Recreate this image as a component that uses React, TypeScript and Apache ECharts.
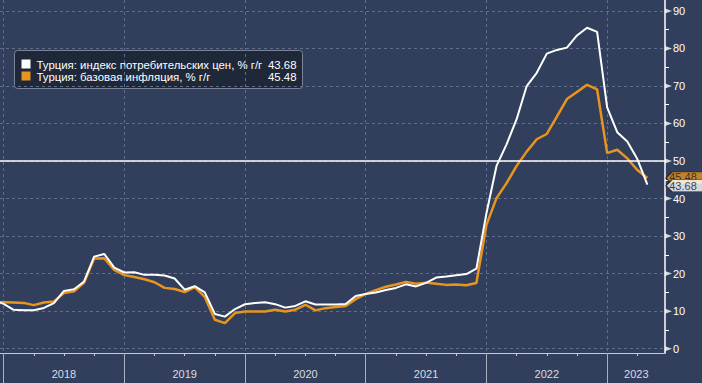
import React, { useEffect, useRef } from "react";
import * as echarts from "echarts";

// Month labels (end-of-month observations)
const months: string[] = [
  "2017-11", "2017-12",
  "2018-01", "2018-02", "2018-03", "2018-04", "2018-05", "2018-06", "2018-07", "2018-08", "2018-09", "2018-10", "2018-11", "2018-12",
  "2019-01", "2019-02", "2019-03", "2019-04", "2019-05", "2019-06", "2019-07", "2019-08", "2019-09", "2019-10", "2019-11", "2019-12",
  "2020-01", "2020-02", "2020-03", "2020-04", "2020-05", "2020-06", "2020-07", "2020-08", "2020-09", "2020-10", "2020-11", "2020-12",
  "2021-01", "2021-02", "2021-03", "2021-04", "2021-05", "2021-06", "2021-07", "2021-08", "2021-09", "2021-10", "2021-11", "2021-12",
  "2022-01", "2022-02", "2022-03", "2022-04", "2022-05", "2022-06", "2022-07", "2022-08", "2022-09", "2022-10", "2022-11", "2022-12",
  "2023-01", "2023-02", "2023-03", "2023-04",
];

// Турция: индекс потребительских цен, % г/г
const cpi: number[] = [
  12.98, 11.92,
  10.35, 10.26, 10.23, 10.85, 12.15, 15.39, 15.85, 17.9, 24.52, 25.24, 21.62, 20.3,
  20.35, 19.67, 19.71, 19.5, 18.71, 15.72, 16.65, 15.01, 9.26, 8.55, 10.56, 11.84,
  12.15, 12.37, 11.86, 10.94, 11.39, 12.62, 11.76, 11.77, 11.75, 11.89, 14.03, 14.6,
  14.97, 15.61, 16.19, 17.14, 16.59, 17.53, 18.95, 19.25, 19.58, 19.89, 21.31, 36.08,
  48.69, 54.44, 61.14, 69.97, 73.5, 78.62, 79.6, 80.21, 83.45, 85.51, 84.39, 64.27,
  57.68, 55.18, 50.51, 43.68,
];

// Турция: базовая инфляция, % г/г
const core: number[] = [
  12.3, 12.4,
  12.3, 12.2, 11.6, 12.3, 12.6, 14.8, 15.3, 17.6, 24.0, 24.1, 21.0, 19.6,
  19.1, 18.5, 17.7, 16.2, 15.9, 15.1, 16.4, 13.8, 7.7, 6.8, 9.5, 9.9,
  9.9, 9.9, 10.4, 9.9, 10.4, 11.7, 10.2, 10.8, 11.1, 11.4, 13.2, 14.6,
  15.6, 16.5, 17.1, 17.8, 17.3, 17.6, 17.3, 17.0, 17.1, 16.9, 17.5, 33.0,
  40.1, 44.1, 48.7, 52.5, 55.8, 57.2, 61.8, 66.5, 68.4, 70.3, 69.1, 52.1,
  53.0, 50.7, 47.6, 45.48,
];

const seriesNames: string[] = [
  "Турция: индекс потребительских цен, % г/г",
  "Турция: базовая инфляция, % г/г",
];

const yTickValues: number[] = [0, 10, 20, 30, 40, 50, 60, 70, 80, 90];
const yMinorTicks: number[] = [5, 15, 25, 35, 45, 55, 65, 75, 85];
const yearStartTicks: number[] = [0, 12, 24, 36, 48, 60];
const quarterTicks: number[] = [0, 3, 6, 9, 12, 15, 18, 21, 24, 27, 30, 33, 36, 39, 42, 45, 48, 51, 54, 57, 60, 63];
const yearLabelPositions: number[] = [6, 18, 30, 42, 54, 62.9];
const referenceLevel = 50;

const X_MIN = -0.36;
const X_MAX = 65.75;
const Y_MIN = -1.15;
const Y_MAX = 92.9;

const BG = "#323f5c";
const ORANGE = "#e8951f";
const GRID = "#5f6e8c";
const FONT = "'Liberation Sans', Arial, sans-serif";

function monthIndex(s: string): number {
  const [y, m] = s.split("-").map(Number);
  return (y - 2018) * 12 + m;
}

export default function App() {
  const ref = useRef<HTMLDivElement>(null);

  useEffect(() => {
    if (!ref.current) return;
    const chart = echarts.init(ref.current, undefined, { renderer: "svg" });

    const cpiData = months.map((m, i) => [monthIndex(m), cpi[i]]);
    const coreData = months.map((m, i) => [monthIndex(m), core[i]]);
    const lastCpi = cpi[cpi.length - 1];
    const lastCore = core[core.length - 1];

    const tagPath = "path://M0,6L6,0L40,0L40,12L6,12Z";

    const option: any = {
      animation: false,
      backgroundColor: BG,
      grid: { left: 0, right: 37, top: 0, bottom: 30, containLabel: false },
      xAxis: [
        {
          type: "value",
          min: X_MIN,
          max: X_MAX,
          position: "bottom",
          axisLine: { show: true, onZero: false, lineStyle: { color: "#c5cad3", width: 1 } },
          axisTick: { show: true, customValues: quarterTicks, length: 3, lineStyle: { color: "#c5cad3" } },
          axisLabel: {
            show: true,
            customValues: yearLabelPositions,
            formatter: (v: number) => String(2018 + Math.floor(v / 12)),
            color: "#d8dce4",
            fontSize: 11,
            fontFamily: FONT,
            margin: 15,
          },
          splitLine: { show: false },
        },
        {
          type: "value",
          min: X_MIN,
          max: X_MAX,
          position: "bottom",
          axisLine: { show: false, onZero: false },
          axisTick: { show: true, customValues: yearStartTicks, length: 30, lineStyle: { color: "#a9b0bd" } },
          axisLabel: { show: false },
          splitLine: { show: true, lineStyle: { color: GRID, type: [3, 3], width: 1 } },
        },
      ],
      yAxis: [
        {
          type: "value",
          position: "right",
          min: Y_MIN,
          max: Y_MAX,
          axisLine: { show: true, onZero: false, lineStyle: { color: "#ffffff", width: 1.5 } },
          axisTick: { show: false, customValues: yTickValues },
          axisLabel: {
            customValues: yTickValues,
            color: "#ffffff",
            fontSize: 11,
            fontFamily: FONT,
            margin: 8,
          },
          splitLine: { show: true, lineStyle: { color: GRID, type: [3, 3], width: 1 } },
        },
        {
          type: "value",
          position: "right",
          min: Y_MIN,
          max: Y_MAX,
          axisLine: { show: false, onZero: false },
          axisTick: { show: true, customValues: yMinorTicks, length: 4, lineStyle: { color: "#ffffff" } },
          axisLabel: { show: false },
          splitLine: { show: false },
        },
      ],
      series: [
        {
          name: seriesNames[1],
          type: "line",
          data: coreData,
          symbol: "none",
          lineStyle: { color: ORANGE, width: 2.5 },
          z: 2,
        },
        {
          name: seriesNames[0],
          type: "line",
          data: cpiData,
          symbol: "none",
          lineStyle: { color: "#ffffff", width: 2 },
          z: 3,
          markLine: {
            silent: true,
            symbol: "none",
            label: { show: false },
            lineStyle: { color: "#ffffff", width: 1.5, type: "solid" },
            data: [{ yAxis: referenceLevel }],
          },
        },
        {
          type: "scatter",
          data: yTickValues.map((v) => [X_MAX, v]),
          symbol: "triangle",
          symbolRotate: -90,
          symbolSize: [5, 7],
          symbolOffset: [3.5, 0],
          itemStyle: { color: "#ffffff" },
          clip: false,
          silent: true,
          z: 5,
        },
        {
          type: "scatter",
          data: [[X_MAX, lastCore]],
          symbol: tagPath,
          symbolKeepAspect: false,
          symbolSize: [40, 12],
          symbolOffset: [21, 0],
          itemStyle: { color: ORANGE, borderColor: "#1a1a1a", borderWidth: 1 },
          label: {
            show: true,
            position: "inside",
            formatter: () => lastCore.toFixed(2),
            color: "#1a1a1a",
            fontSize: 11,
            fontFamily: FONT,
            offset: [-3, -1],
          },
          clip: false,
          silent: true,
          z: 6,
        },
        {
          type: "scatter",
          data: [[X_MAX, lastCpi]],
          symbol: tagPath,
          symbolKeepAspect: false,
          symbolSize: [40, 12],
          symbolOffset: [21, 1],
          itemStyle: { color: "#ffffff", borderColor: "#1a1a1a", borderWidth: 1 },
          label: {
            show: true,
            position: "inside",
            formatter: () => lastCpi.toFixed(2),
            color: "#111111",
            fontSize: 11,
            fontFamily: FONT,
            offset: [-3, 0],
          },
          clip: false,
          silent: true,
          z: 7,
        },
      ],
      graphic: [
        {
          type: "group",
          left: 14,
          top: 50,
          children: [
            {
              type: "rect",
              shape: { x: 0, y: 0, width: 288, height: 38, r: 3 },
              style: { fill: "#1e2839", stroke: "#7b8396", lineWidth: 1 },
            },
            { type: "rect", shape: { x: 7, y: 9, width: 9, height: 9 }, style: { fill: "#ffffff" } },
            {
              type: "text",
              x: 22,
              y: 14,
              style: { text: seriesNames[0], fill: "#ffffff", font: `11.4px ${FONT}`, verticalAlign: "middle" },
            },
            {
              type: "text",
              x: 282,
              y: 14,
              style: { text: lastCpi.toFixed(2), fill: "#ffffff", font: `11.4px ${FONT}`, align: "right", verticalAlign: "middle" },
            },
            { type: "rect", shape: { x: 7, y: 21, width: 9, height: 9 }, style: { fill: ORANGE } },
            {
              type: "text",
              x: 22,
              y: 26,
              style: { text: seriesNames[1], fill: "#ffffff", font: `11.4px ${FONT}`, verticalAlign: "middle" },
            },
            {
              type: "text",
              x: 282,
              y: 26,
              style: { text: lastCore.toFixed(2), fill: "#ffffff", font: `11.4px ${FONT}`, align: "right", verticalAlign: "middle" },
            },
          ],
        },
      ],
    };

    chart.setOption(option);
    return () => chart.dispose();
  }, []);

  return <div ref={ref} style={{ position: "absolute", left: 0, top: 0, width: 702, height: 383 }} />;
}
